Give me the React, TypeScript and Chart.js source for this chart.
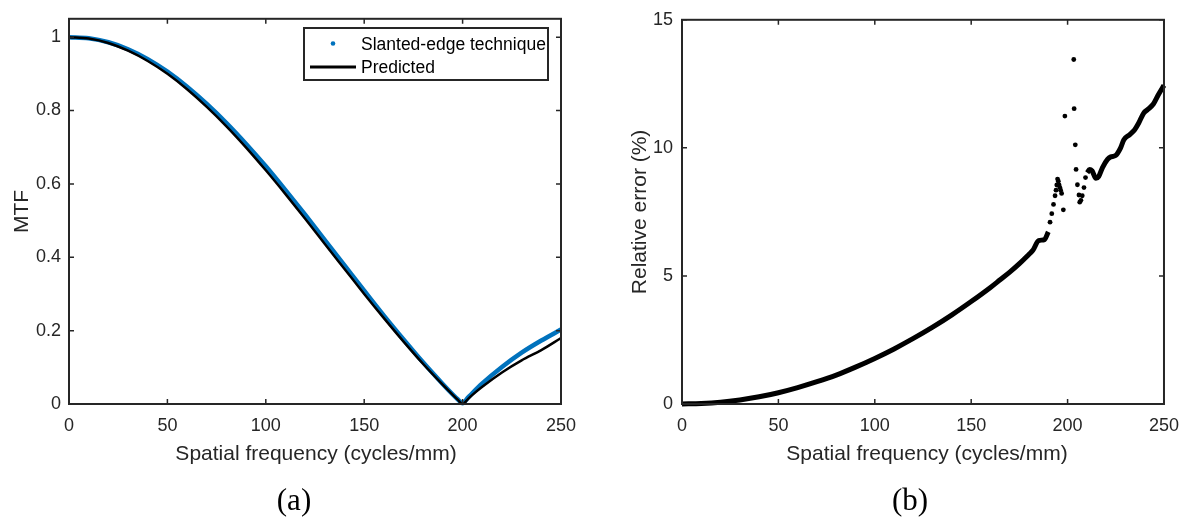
import React, { useEffect, useRef } from "react";
import { Chart, registerables } from "chart.js";

Chart.register(...registerables);

// ---------- data ----------
const xTicks = [0, 50, 100, 150, 200, 250];
const mtfTicks = [0, 0.2, 0.4, 0.6, 0.8, 1];
const errTicks = [0, 5, 10, 15];

const predictedFreq = [0, 10, 20, 30, 40, 50, 60, 70, 80, 90, 100, 110, 120, 130, 140, 150, 160, 170, 180, 190, 195, 197.5, 200, 202.5, 205, 210, 220, 230, 240, 250];
const predictedMTF = [1.0, 0.996, 0.984, 0.963, 0.935, 0.9, 0.858, 0.81, 0.757, 0.699, 0.637, 0.572, 0.505, 0.436, 0.368, 0.3, 0.234, 0.17, 0.109, 0.052, 0.025, 0.012, 0.0, 0.012, 0.025, 0.047, 0.086, 0.119, 0.147, 0.18];

const slantedFreq = [0, 10, 20, 30, 40, 50, 60, 70, 80, 90, 100, 110, 120, 130, 140, 150, 160, 170, 180, 190, 195, 197.5, 200, 202.5, 205, 210, 220, 230, 240, 250];
const slantedMTF = [1.0, 0.997, 0.986, 0.967, 0.94, 0.906, 0.865, 0.818, 0.766, 0.709, 0.648, 0.583, 0.516, 0.447, 0.378, 0.309, 0.241, 0.176, 0.113, 0.054, 0.026, 0.013, 0.002, 0.016, 0.03, 0.056, 0.101, 0.14, 0.173, 0.203];

const errFreqLow = [0, 10, 20, 30, 40, 50, 60, 70, 80, 90, 100, 110, 120, 130, 140, 150, 160, 165, 170, 175, 180, 182, 185, 188, 190];
const errLow = [0.0, 0.02, 0.07, 0.16, 0.28, 0.44, 0.64, 0.87, 1.13, 1.44, 1.78, 2.15, 2.56, 3.0, 3.48, 4.0, 4.55, 4.85, 5.15, 5.48, 5.85, 6.0, 6.38, 6.42, 6.72];

const errFreqScatter = [190.9, 191.8, 192.7, 193.5, 194.0, 194.4, 194.8, 195.2, 195.6, 196.0, 196.4, 196.9, 197.8, 198.6, 203.2, 203.4, 204.0, 204.4, 205.1, 205.9, 206.3, 206.9, 207.6, 208.5, 209.3];
const errScatter = [7.1, 7.43, 7.79, 8.13, 8.35, 8.55, 8.78, 8.7, 8.55, 8.45, 8.35, 8.22, 7.58, 11.24, 13.45, 11.53, 10.12, 9.16, 8.56, 8.16, 7.88, 7.95, 8.13, 8.45, 8.84];

const errFreqHigh = [210.2, 211.4, 212.7, 214.7, 216.1, 218.1, 220.7, 222.4, 224.9, 227.5, 229.2, 232.1, 234.8, 236.9, 239.4, 241.6, 244.5, 247.0, 250];
const errHigh = [9.03, 9.16, 9.1, 8.81, 8.88, 9.23, 9.55, 9.65, 9.7, 10.0, 10.32, 10.51, 10.71, 10.97, 11.35, 11.5, 11.71, 12.06, 12.44];

// ---------- styling ----------
const SANS = "'Liberation Sans', Arial, Helvetica, sans-serif";
const SERIF = "'Liberation Serif', 'Times New Roman', serif";
const AXIS = "#262626";
const BLUE = "#0072BD";

const pts = (xs: number[], ys: number[]) => xs.map((x, i) => ({ x, y: ys[i] }));

type FrameOpts = {
  yTitle: string;
  yTitleX: number;
  xTitleY: number;
  xTitleDX: number;
  caption: string;
  captionX: number;
  captionY: number;
  yTickVals: number[];
  legend: boolean;
};

function framePlugin(o: FrameOpts) {
  return {
    id: "frame",
    afterDraw(chart: any) {
      const { ctx, chartArea: a, scales } = chart;
      ctx.save();
      // inward ticks on all four sides
      ctx.strokeStyle = AXIS;
      ctx.lineWidth = 1.5;
      ctx.beginPath();
      for (const v of xTicks) {
        const px = scales.x.getPixelForValue(v);
        ctx.moveTo(px, a.bottom);
        ctx.lineTo(px, a.bottom - 5);
        ctx.moveTo(px, a.top);
        ctx.lineTo(px, a.top + 5);
      }
      for (const v of o.yTickVals) {
        const py = scales.y.getPixelForValue(v);
        ctx.moveTo(a.left, py);
        ctx.lineTo(a.left + 5, py);
        ctx.moveTo(a.right, py);
        ctx.lineTo(a.right - 5, py);
      }
      ctx.stroke();
      ctx.lineWidth = 2;
      ctx.strokeRect(a.left, a.top, a.right - a.left, a.bottom - a.top);

      // axis titles
      ctx.fillStyle = AXIS;
      ctx.font = `21px ${SANS}`;
      ctx.textAlign = "center";
      ctx.textBaseline = "alphabetic";
      ctx.fillText("Spatial frequency (cycles/mm)", (a.left + a.right) / 2 + o.xTitleDX, o.xTitleY);
      ctx.save();
      ctx.translate(o.yTitleX, (a.top + a.bottom) / 2);
      ctx.rotate(-Math.PI / 2);
      ctx.fillText(o.yTitle, 0, 0);
      ctx.restore();

      // caption
      ctx.fillStyle = "#000";
      ctx.font = `31px ${SERIF}`;
      ctx.fillText(o.caption, o.captionX, o.captionY);

      // legend
      if (o.legend) {
        const lx = 304, ly = 28, lw = 244, lh = 52;
        ctx.fillStyle = "#fff";
        ctx.fillRect(lx, ly, lw, lh);
        ctx.strokeStyle = AXIS;
        ctx.lineWidth = 2;
        ctx.strokeRect(lx, ly, lw, lh);
        ctx.fillStyle = BLUE;
        ctx.beginPath();
        ctx.arc(333, 43.5, 2.3, 0, Math.PI * 2);
        ctx.fill();
        ctx.strokeStyle = "#000";
        ctx.lineWidth = 3;
        ctx.beginPath();
        ctx.moveTo(310, 67);
        ctx.lineTo(356, 67);
        ctx.stroke();
        ctx.fillStyle = "#000";
        ctx.font = `17.5px ${SANS}`;
        ctx.textAlign = "left";
        ctx.fillText("Slanted-edge technique", 361, 50);
        ctx.fillText("Predicted", 361, 73);
      }
      ctx.restore();
    },
  };
}

function axisX(height: number) {
  return {
    type: "linear" as const,
    min: 0,
    max: 250,
    afterBuildTicks: (s: any) => {
      s.ticks = xTicks.map((v) => ({ value: v }));
    },
    afterFit: (s: any) => {
      s.height = height;
    },
    grid: { display: false, drawTicks: false },
    border: { display: false },
    ticks: {
      color: AXIS,
      font: { size: 18, family: SANS },
      padding: 11,
      maxRotation: 0,
      autoSkip: false,
      callback: (v: any) => String(v),
    },
  };
}

function axisY(min: number, max: number, tickVals: number[], width: number, pad: number) {
  return {
    type: "linear" as const,
    min,
    max,
    afterBuildTicks: (s: any) => {
      s.ticks = tickVals.map((v) => ({ value: v }));
    },
    afterFit: (s: any) => {
      s.width = width;
    },
    grid: { display: false, drawTicks: false },
    border: { display: false },
    ticks: {
      color: AXIS,
      font: { size: 18, family: SANS },
      padding: pad,
      autoSkip: false,
      callback: (v: any) => String(v),
    },
  };
}

function MtfChart() {
  const ref = useRef<HTMLCanvasElement>(null);
  useEffect(() => {
    const chart = new Chart(ref.current as HTMLCanvasElement, {
      type: "line",
      data: {
        datasets: [
          {
            label: "Predicted",
            data: pts(predictedFreq, predictedMTF),
            borderColor: "#000",
            borderWidth: 2.5,
            pointRadius: 0,
            cubicInterpolationMode: "monotone",
            order: 0,
          },
          {
            label: "Slanted-edge technique",
            data: pts(slantedFreq, slantedMTF),
            borderColor: BLUE,
            borderWidth: 4.5,
            pointRadius: 0,
            cubicInterpolationMode: "monotone",
            order: 1,
            clip: false,
          },
        ],
      } as any,
      options: {
        animation: false,
        responsive: false,
        maintainAspectRatio: false,
        events: [],
        layout: { padding: { left: 0, right: 39, top: 16, bottom: 0 } },
        plugins: { legend: { display: false }, tooltip: { enabled: false } },
        scales: {
          x: axisX(115),
          y: axisY(0, 1.05, mtfTicks, 69, 8),
        },
      } as any,
      plugins: [
        framePlugin({
          yTitle: "MTF",
          yTitleX: 27.5,
          xTitleY: 460,
          xTitleDX: 1,
          caption: "(a)",
          captionX: 294,
          captionY: 510,
          yTickVals: mtfTicks,
          legend: true,
        }),
      ],
    });
    return () => chart.destroy();
  }, []);
  return (
    <canvas
      ref={ref}
      width={600}
      height={519}
      style={{ position: "absolute", left: 0, top: 0, width: 600, height: 519 }}
    />
  );
}

function ErrorChart() {
  const ref = useRef<HTMLCanvasElement>(null);
  useEffect(() => {
    const chart = new Chart(ref.current as HTMLCanvasElement, {
      type: "line",
      data: {
        datasets: [
          {
            label: "Relative error (dense, low)",
            data: pts(errFreqLow, errLow),
            borderColor: "#000",
            borderWidth: 5,
            pointRadius: 0,
            cubicInterpolationMode: "monotone",
            clip: false,
          },
          {
            label: "Relative error (scattered)",
            data: pts(errFreqScatter, errScatter),
            showLine: false,
            pointRadius: 2.4,
            pointBorderWidth: 0,
            pointBackgroundColor: "#000",
            borderColor: "#000",
            clip: false,
          },
          {
            label: "Relative error (dense, high)",
            data: pts(errFreqHigh, errHigh),
            borderColor: "#000",
            borderWidth: 5,
            pointRadius: 0,
            cubicInterpolationMode: "monotone",
            clip: false,
          },
        ],
      } as any,
      options: {
        animation: false,
        responsive: false,
        maintainAspectRatio: false,
        events: [],
        layout: { padding: { left: 0, right: 18, top: 16, bottom: 0 } },
        plugins: { legend: { display: false }, tooltip: { enabled: false } },
        scales: {
          x: axisX(115),
          y: axisY(0, 15, errTicks, 82, 9),
        },
      } as any,
      plugins: [
        framePlugin({
          yTitle: "Relative error (%)",
          yTitleX: 46,
          xTitleY: 460,
          xTitleDX: 4,
          caption: "(b)",
          captionX: 310,
          captionY: 510,
          yTickVals: errTicks,
          legend: false,
        }),
      ],
    });
    return () => chart.destroy();
  }, []);
  return (
    <canvas
      ref={ref}
      width={590}
      height={519}
      style={{ position: "absolute", left: 600, top: 0, width: 590, height: 519 }}
    />
  );
}

export default function App() {
  return (
    <div
      style={{
        position: "fixed",
        left: 0,
        top: 0,
        width: 1190,
        height: 519,
        background: "#fff",
        overflow: "hidden",
      }}
    >
      <MtfChart />
      <ErrorChart />
    </div>
  );
}
